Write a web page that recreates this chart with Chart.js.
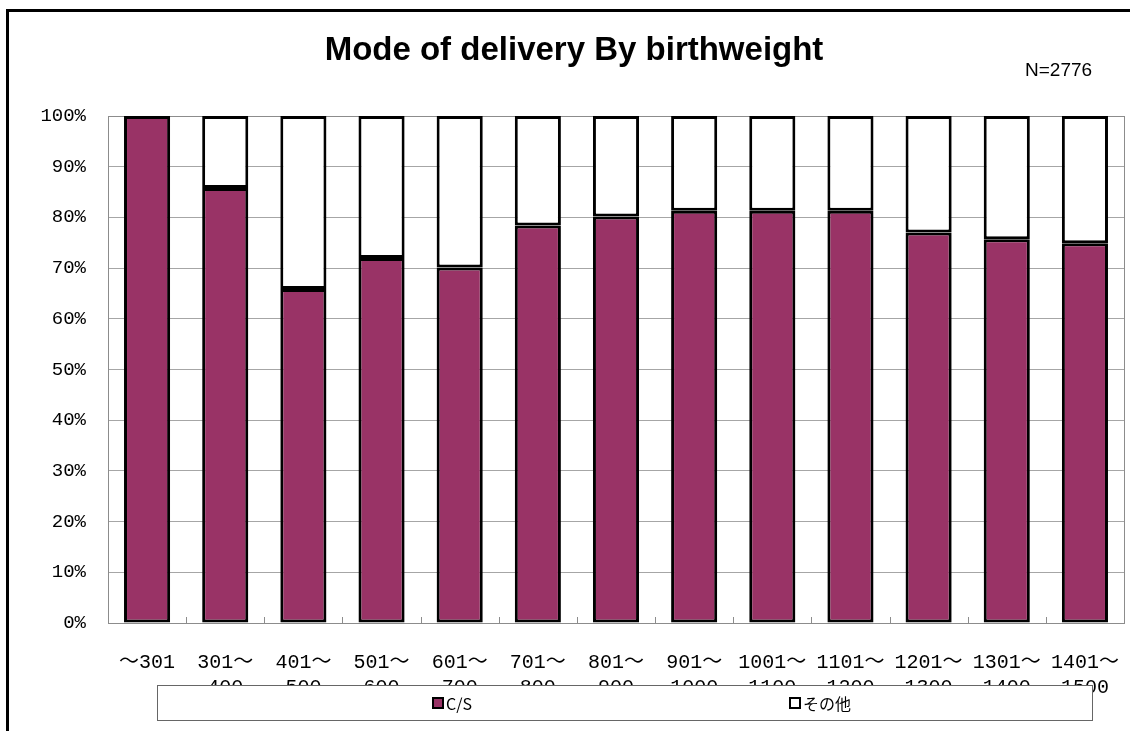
<!DOCTYPE html>
<html>
<head>
<meta charset="utf-8">
<script src="https://cdn.jsdelivr.net/npm/chart.js@4/dist/chart.umd.min.js"></script>
<style>
  html, body { margin: 0; padding: 0; background: #fff; }
  #wrap { position: relative; width: 1130px; height: 731px; }
</style>
</head>
<body>
<div id="wrap"><canvas id="chart"></canvas></div>
<script>
// 出生体重別の分娩方法
const weightLabels = [
  ['～301'], ['301～', '400'], ['401～', '500'], ['501～', '600'], ['601～', '700'],
  ['701～', '800'], ['801～', '900'], ['901～', '1000'], ['1001～', '1100'],
  ['1101～', '1200'], ['1201～', '1300'], ['1301～', '1400'], ['1401～', '1500']
];
const csShare = [100, 85.8, 65.9, 72.0, 70.1, 78.4, 80.2, 81.3, 81.3, 81.3, 77.0, 75.7, 74.9];
const otherShare = [0, 14.2, 34.1, 28.0, 29.9, 21.6, 19.8, 18.7, 18.7, 18.7, 23.0, 24.3, 25.1];
const seriesNames = ['C/S', 'その他'];
const yTicks = [0, 10, 20, 30, 40, 50, 60, 70, 80, 90, 100];

const monoFont = "'Liberation Mono', 'Noto Sans CJK JP', monospace";

// 枠、タイトル、N数、凡例ボックスを描くプラグイン
const decorations = {
  id: 'decorations',
  beforeDraw(chart) {
    const ctx = chart.ctx;
    ctx.save();
    ctx.fillStyle = '#fff';
    ctx.fillRect(0, 0, chart.width, chart.height);
    ctx.restore();
  },
  beforeDatasetsDraw(chart) {
    const { ctx, chartArea: a } = chart;
    ctx.save();
    ctx.strokeStyle = '#8c8c8c';
    ctx.lineWidth = 1;
    ctx.strokeRect(Math.round(a.left) + 0.5, Math.round(a.top) + 0.5,
      Math.round(a.right - a.left), Math.round(a.bottom - a.top));
    // 下軸の内向き目盛り（カテゴリ境界）
    const x = chart.scales.x;
    ctx.beginPath();
    for (let i = 1; i < chart.data.labels.length; i++) {
      const px = Math.round((x.getPixelForTick(i - 1) + x.getPixelForTick(i)) / 2) + 0.5;
      ctx.moveTo(px, a.bottom);
      ctx.lineTo(px, a.bottom - 6);
    }
    ctx.stroke();
    ctx.restore();
  },
  afterDraw(chart) {
    const ctx = chart.ctx;
    ctx.save();
    // 外枠
    ctx.strokeStyle = '#000';
    ctx.lineWidth = 3;
    ctx.strokeRect(7.5, 10.5, 1200, 800);

    // タイトル
    ctx.fillStyle = '#000';
    ctx.font = "bold 33px 'Liberation Sans', Arial, sans-serif";
    ctx.textAlign = 'center';
    ctx.textBaseline = 'middle';
    ctx.fillText('Mode of delivery By birthweight', 574, 51);

    ctx.font = "19px 'Liberation Sans', Arial, sans-serif";
    ctx.textAlign = 'left';
    ctx.fillText('N=2776', 1025, 71);

    // 凡例
    ctx.fillStyle = '#fff';
    ctx.fillRect(157, 685, 935, 35);
    ctx.strokeStyle = '#666';
    ctx.lineWidth = 1;
    ctx.strokeRect(157.5, 685.5, 935, 35);

    const items = [
      { x: 433, label: seriesNames[0], color: chart.data.datasets[0].backgroundColor },
      { x: 790, label: seriesNames[1], color: chart.data.datasets[1].backgroundColor }
    ];
    ctx.font = "16px 'Noto Sans CJK JP', 'Liberation Sans', sans-serif";
    ctx.textBaseline = 'middle';
    items.forEach(it => {
      ctx.fillStyle = it.color;
      ctx.fillRect(it.x, 698, 10, 10);
      ctx.strokeStyle = '#000';
      ctx.lineWidth = 2;
      ctx.strokeRect(it.x, 698, 10, 10);
      ctx.fillStyle = '#000';
      ctx.fillText(it.label, it.x + 13, 704);
    });
    ctx.restore();
  }
};

new Chart(document.getElementById('chart'), {
  type: 'bar',
  data: {
    labels: weightLabels,
    datasets: [
      {
        label: seriesNames[0],
        data: csShare,
        backgroundColor: '#993366',
        borderColor: '#000',
        borderWidth: 3,
        borderSkipped: false,
        categoryPercentage: 1,
        barPercentage: 0.59
      },
      {
        label: seriesNames[1],
        data: otherShare,
        backgroundColor: '#ffffff',
        borderColor: '#000',
        borderWidth: 3,
        borderSkipped: false,
        categoryPercentage: 1,
        barPercentage: 0.59
      }
    ]
  },
  options: {
    responsive: true,
    maintainAspectRatio: false,
    animation: false,
    layout: { padding: { top: 116, left: 0, right: 6, bottom: 0 } },
    plugins: {
      legend: { display: false },
      title: { display: false },
      tooltip: { enabled: false }
    },
    scales: {
      x: {
        stacked: true,
        grid: { display: false },
        border: { display: false },
        ticks: {
          color: '#000',
          font: { family: monoFont, size: 20, lineHeight: 1.25 },
          padding: 19,
          maxRotation: 0,
          autoSkip: false
        },
        afterFit(scale) {
          scale.height = 108;
          scale.paddingLeft = 0;
          scale.paddingRight = 0;
        }
      },
      y: {
        stacked: true,
        min: 0,
        max: 100,
        grid: { color: '#a6a6a6', drawTicks: false },
        border: { display: false },
        afterBuildTicks(scale) { scale.ticks = yTicks.map(v => ({ value: v })); },
        ticks: {
          color: '#000',
          font: { family: monoFont, size: 19 },
          padding: 22,
          callback: v => v + '%'
        },
        afterFit(scale) { scale.width = 108; }
      }
    }
  },
  plugins: [decorations]
});
</script>
</body>
</html>
